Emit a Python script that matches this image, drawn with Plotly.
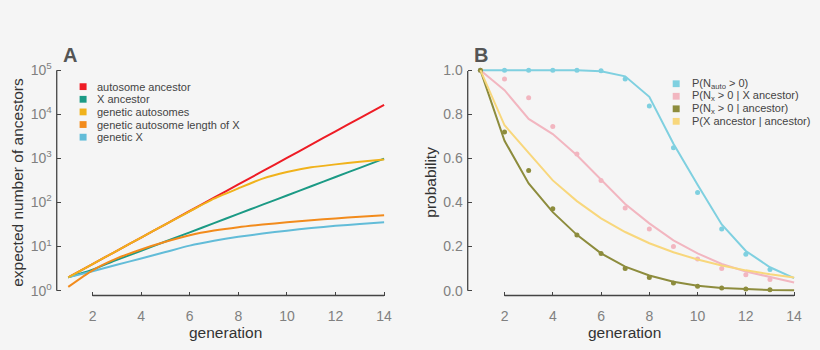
import plotly.graph_objects as go

W, H = 820, 350

# ---------------- data ----------------
generation = list(range(1, 15))

# Panel A (expected number of ancestors)
autosome_ancestor = [2, 4, 8, 16, 32, 64, 128, 256, 512, 1024, 2048, 4096, 8192, 16384]
x_ancestor = [2, 3, 5, 8, 13, 21, 34, 55, 89, 144, 233, 377, 610, 987]
genetic_autosomes = [2, 4, 8, 16, 32, 63, 122, 209, 347, 488, 625, 730, 835, 940]
genetic_auto_len_x = [1.22, 2.9, 5.4, 8.6, 12.8, 18, 23, 27.5, 31.5, 35.5, 39.5, 43.5, 47.5, 51]
genetic_x = [2, 2.75, 3.85, 5.37, 7.5, 10.5, 13.5, 16.6, 19.7, 22.9, 26.3, 29.5, 32.4, 35.5]

labels_a = ["autosome ancestor", "X ancestor", "genetic autosomes",
            "genetic autosome length of X", "genetic X"]
colors_a = ["#ee1c25", "#1b9a85", "#f0b21b", "#f28b1c", "#62bcd8"]

# Panel B (probability)
p_nauto_line = [1, 1, 1, 1, 1, 0.995, 0.972, 0.879, 0.666, 0.48, 0.30, 0.18, 0.106, 0.057]
p_nauto_pts = [1, 1, 1, 1, 1, 0.997, 0.96, 0.838, 0.648, 0.445, 0.28, 0.165, 0.096]
p_nx_xanc_line = [1, 0.909, 0.779, 0.71, 0.614, 0.504, 0.393, 0.305, 0.228, 0.169, 0.121, 0.087, 0.062, 0.037]
p_nx_xanc_pts = [1, 0.96, 0.875, 0.744, 0.62, 0.50, 0.375, 0.28, 0.20, 0.143, 0.10, 0.072, 0.05]
p_nx_anc_line = [1, 0.68, 0.486, 0.356, 0.253, 0.169, 0.109, 0.069, 0.04, 0.022, 0.012, 0.007, 0.003, 0.002]
p_nx_anc_pts = [1, 0.72, 0.545, 0.371, 0.252, 0.168, 0.10, 0.06, 0.035, 0.02, 0.012, 0.007, 0.004]
p_xanc_anc_line = [1, 0.75, 0.625, 0.5, 0.406, 0.328, 0.266, 0.215, 0.174, 0.141, 0.114, 0.092, 0.074, 0.060]

labels_b = ["P(N<sub>auto</sub> > 0)", "P(N<sub>x</sub> > 0 | X ancestor)",
            "P(N<sub>x</sub> > 0 | ancestor)", "P(X ancestor | ancestor)"]
colors_b = ["#7fd0e0", "#f2b6c0", "#8d8c3d", "#f8d77c"]

x_ticks = [2, 4, 6, 8, 10, 12, 14]
y_ticks_a = [1, 10, 100, 1000, 10000, 100000]
y_ticktext_a = ["10<sup>%d</sup>" % i for i in range(6)]
y_ticks_b = [0.0, 0.2, 0.4, 0.6, 0.8, 1.0]
y_ticktext_b = ["0.0", "0.2", "0.4", "0.6", "0.8", "1.0"]

FONT = "Liberation Sans, Arial, Helvetica, sans-serif"
BG = "#f5f5f5"
SPINE = "#444444"
TICKC = "#808080"


def px_x(p):
    return p / W


def px_y(p):
    return 1 - p / H


fig = go.Figure()

# Panel A lines
series_a = [autosome_ancestor, x_ancestor, genetic_x, genetic_auto_len_x, genetic_autosomes]
order_idx = [0, 1, 4, 3, 2]
for vals, i in zip(series_a, order_idx):
    fig.add_trace(go.Scatter(x=generation, y=vals, mode="lines",
                             line=dict(color=colors_a[i], width=2, shape="spline", smoothing=0.6),
                             xaxis="x", yaxis="y", showlegend=False, hoverinfo="skip"))

# Panel B lines + points
lines_b = [p_nauto_line, p_nx_xanc_line, p_nx_anc_line, p_xanc_anc_line]
pts_b = [p_nauto_pts, p_nx_xanc_pts, p_nx_anc_pts, None]
for vals, pts, c in zip(lines_b, pts_b, colors_b):
    fig.add_trace(go.Scatter(x=generation, y=vals, mode="lines",
                             line=dict(color=c, width=2),
                             xaxis="x2", yaxis="y2", showlegend=False, hoverinfo="skip"))
    if pts is not None:
        fig.add_trace(go.Scatter(x=generation[:len(pts)], y=pts, mode="markers",
                                 marker=dict(color=c, size=5),
                                 xaxis="x2", yaxis="y2", showlegend=False, hoverinfo="skip"))

# geometry (pixels)
A_left, A_right = 57, 390
B_left, B_right = 470, 802
top_px, bot_px = 62, 297

axis_common = dict(showgrid=False, zeroline=False, showline=False, ticks="inside",
                   ticklen=4, tickwidth=1, tickcolor=SPINE,
                   tickfont=dict(family=FONT, size=14, color=TICKC))

fig.update_layout(
    width=W, height=H, margin=dict(l=0, r=0, t=0, b=0),
    paper_bgcolor=BG, plot_bgcolor=BG,
    font=dict(family=FONT),
    xaxis=dict(domain=[px_x(A_left), px_x(A_right)], range=[0.5256, 14.164],
               tickvals=x_ticks, anchor="y", ticklabelstandoff=10, **axis_common),
    yaxis=dict(domain=[px_y(bot_px), px_y(top_px)], type="log", range=[-0.110, 5.066],
               tickvals=y_ticks_a, ticktext=y_ticktext_a, anchor="x", ticklabelstandoff=4,
               **axis_common),
    xaxis2=dict(domain=[px_x(B_left), px_x(B_right)], range=[0.4742, 14.165],
                tickvals=x_ticks, anchor="y2", ticklabelstandoff=10, **axis_common),
    yaxis2=dict(domain=[px_y(bot_px), px_y(top_px)], range=[-0.0221, 1.0133],
                tickvals=y_ticks_b, ticktext=y_ticktext_b, anchor="x2", ticklabelstandoff=4,
                **axis_common),
)

shapes = []
# spines
for (x0, y0, x1, y1) in [(57, 65, 57, 292), (93, 297, 386, 297),
                         (470, 66, 470, 292), (507, 297, 798, 297)]:
    shapes.append(dict(type="line", xref="paper", yref="paper",
                       x0=px_x(x0), y0=px_y(y0), x1=px_x(x1), y1=px_y(y1),
                       line=dict(color=SPINE, width=1.3)))

annotations = []
leg_font = dict(family=FONT, size=11, color="#444444")
# legend A
for k, (lab, c) in enumerate(zip(labels_a, colors_a)):
    yc = 82 + 13 * k
    shapes.append(dict(type="rect", xref="paper", yref="paper",
                       x0=px_x(80), x1=px_x(87), y0=px_y(yc - 3.5), y1=px_y(yc + 3.5),
                       fillcolor=c, line=dict(width=0)))
    annotations.append(dict(x=px_x(95), y=px_y(yc), xref="paper", yref="paper",
                            text=lab, showarrow=False, xanchor="left", yanchor="middle",
                            font=leg_font))
# legend B
for k, (lab, c) in enumerate(zip(labels_b, colors_b)):
    yc = 79 + 12.9 * k
    shapes.append(dict(type="rect", xref="paper", yref="paper",
                       x0=px_x(676), x1=px_x(683), y0=px_y(yc - 3.5), y1=px_y(yc + 3.5),
                       fillcolor=c, line=dict(width=0)))
    annotations.append(dict(x=px_x(693), y=px_y(yc), xref="paper", yref="paper",
                            text=lab, showarrow=False, xanchor="left", yanchor="middle",
                            font=leg_font))

# axis titles & panel letters
title_font = dict(family=FONT, size=15.5, color="#333333")
annotations += [
    dict(x=px_x(227), y=px_y(335), text="generation", showarrow=False, font=title_font,
         xref="paper", yref="paper", xanchor="center", yanchor="middle"),
    dict(x=px_x(628), y=px_y(335), text="generation", showarrow=False, font=title_font,
         xref="paper", yref="paper", xanchor="center", yanchor="middle"),
    dict(x=px_x(18), y=px_y(180), text="expected number of ancestors", showarrow=False,
         font=title_font, textangle=-90, xref="paper", yref="paper",
         xanchor="center", yanchor="middle"),
    dict(x=px_x(433), y=px_y(180), text="probability", showarrow=False,
         font=title_font, textangle=-90, xref="paper", yref="paper",
         xanchor="center", yanchor="middle"),
    dict(x=px_x(61), y=px_y(49.5), text="<b>A</b>", showarrow=False,
         font=dict(family=FONT, size=20, color="#555555"), xref="paper", yref="paper",
         xanchor="left", yanchor="middle"),
    dict(x=px_x(474), y=px_y(49.5), text="<b>B</b>", showarrow=False,
         font=dict(family=FONT, size=20, color="#555555"), xref="paper", yref="paper",
         xanchor="left", yanchor="middle"),
]

fig.update_layout(shapes=shapes, annotations=annotations)
fig.write_html("out.html")
